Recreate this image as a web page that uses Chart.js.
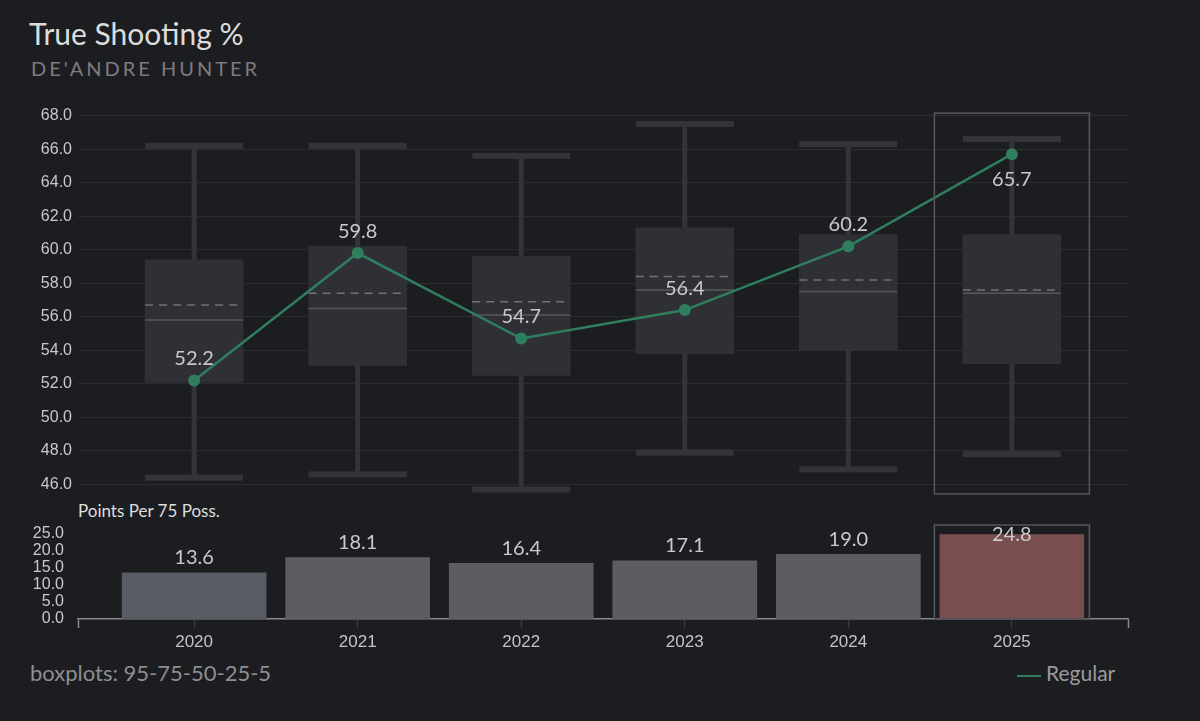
<!DOCTYPE html>
<html>
<head>
<meta charset="utf-8">
<script src="https://cdn.jsdelivr.net/npm/chart.js@4/dist/chart.umd.min.js"></script>
<style>
  html, body { margin: 0; padding: 0; background: #1c1d21; }
  #wrap { position: relative; width: 1200px; height: 721px; overflow: hidden; background: #1c1d21; }
  .txt { position: absolute; white-space: nowrap; }
  #title { left: 29px; top: 15px; font: 30px Lato, sans-serif; color: #dcdcdc; }
  #sub { left: 31px; top: 56px; font: 20px Lato, sans-serif; color: #7c7c7e; letter-spacing: 3px; }
  #ppp { left: 78px; top: 500px; font: 17px Lato, sans-serif; color: #dedede; }
  #foot { left: 30px; top: 659px; font: 22px Lato, sans-serif; color: #8e8e90; }
  #legend { left: 1017px; top: 660px; font: 21px Lato, sans-serif; color: #9a9a9c; }
  #legend span { display: inline-block; width: 24px; height: 2px; background: #2f7f5e; vertical-align: middle; margin-right: 5px; }
  #topc { position: absolute; left: 0; top: 100px; }
  #botc { position: absolute; left: 0; top: 500px; }
</style>
</head>
<body>
<div id="wrap">
  <div class="txt" id="title">True Shooting %</div>
  <div class="txt" id="sub">DE'ANDRE HUNTER</div>
  <div class="txt" id="ppp">Points Per 75 Poss.</div>
  <div class="txt" id="foot">boxplots: 95-75-50-25-5</div>
  <div class="txt" id="legend"><span></span>Regular</div>
  <canvas id="topc" width="1200" height="400"></canvas>
  <canvas id="botc" width="1200" height="160"></canvas>
</div>
<script>
// seasons
const seasons = [2020, 2021, 2022, 2023, 2024, 2025];

// league boxplot percentiles (true shooting %)
const p95 = [66.2, 66.2, 65.6, 67.5, 66.3, 66.6];
const p75 = [59.4, 60.2, 59.6, 61.3, 60.9, 60.9];
const p50 = [55.8, 56.5, 56.1, 57.6, 57.5, 57.4];
const p25 = [52.1, 53.1, 52.5, 53.8, 54.0, 53.2];
const p05 = [46.4, 46.6, 45.7, 47.9, 46.9, 47.8];
const avg = [56.7, 57.4, 56.9, 58.4, 58.2, 57.6];

// player values
const tsPct = [52.2, 59.8, 54.7, 56.4, 60.2, 65.7];
const pts75 = [13.6, 18.1, 16.4, 17.1, 19.0, 24.8];
const barColors = ["#595c64", "#5c5d62", "#5c5d62", "#5c5d62", "#5c5d62", "#794e4f"];
const labelBelow = [false, false, false, false, false, true];

const tsTicks = { min: 46, max: 68, step: 2 };
const ptsTicks = { min: 0, max: 25, step: 5 };
const highlightSeason = 2025;

const xMin = 2019.29, xMax = 2025.71;

const fixY = (w) => (scale) => { scale.width = w; };

// whiskers, medians, means and value labels for the box chart
const boxPlugin = {
  id: "boxes",
  beforeDatasetsDraw(chart) {
    const { ctx, scales: { x, y } } = chart;
    const half = chart.getDatasetMeta(0).data[0].width / 2;
    ctx.save();
    ctx.strokeStyle = "#333439";
    ctx.fillStyle = "#333439";
    seasons.forEach((s, i) => {
      const cx = x.getPixelForValue(s);
      ctx.lineWidth = 5;
      ctx.beginPath();
      ctx.moveTo(cx, y.getPixelForValue(p95[i]));
      ctx.lineTo(cx, y.getPixelForValue(p05[i]));
      ctx.stroke();
      ctx.fillRect(cx - half, y.getPixelForValue(p95[i]) - 3, half * 2, 6);
      ctx.fillRect(cx - half, y.getPixelForValue(p05[i]) - 3, half * 2, 6);
    });
    ctx.restore();
  },
  afterDatasetDraw(chart, args) {
    if (args.index !== 0) return;
    const { ctx, scales: { x, y } } = chart;
    const half = chart.getDatasetMeta(0).data[0].width / 2;
    ctx.save();
    seasons.forEach((s, i) => {
      const cx = x.getPixelForValue(s);
      ctx.lineWidth = 1.5;
      ctx.strokeStyle = "#57585d";
      ctx.setLineDash([]);
      let py = y.getPixelForValue(p50[i]);
      ctx.beginPath(); ctx.moveTo(cx - half, py); ctx.lineTo(cx + half, py); ctx.stroke();
      ctx.strokeStyle = "#717276";
      ctx.setLineDash([8, 6]);
      py = y.getPixelForValue(avg[i]);
      ctx.beginPath(); ctx.moveTo(cx - half, py); ctx.lineTo(cx + half, py); ctx.stroke();
    });
    ctx.restore();
  },
  afterDatasetsDraw(chart) {
    const { ctx, scales: { x, y } } = chart;
    ctx.save();
    ctx.font = "20px Lato, sans-serif";
    ctx.fillStyle = "#cacacc";
    ctx.textAlign = "center";
    ctx.textBaseline = "middle";
    chart.getDatasetMeta(1).data.forEach((pt, i) => {
      ctx.fillText(tsPct[i].toFixed(1), pt.x, pt.y + (labelBelow[i] ? 25 : -22));
    });
    // highlighted season frame
    const hx = x.getPixelForValue(highlightSeason);
    ctx.strokeStyle = "#56575b";
    ctx.lineWidth = 1.5;
    ctx.strokeRect(hx - 77.5, y.getPixelForValue(tsTicks.max) - 2.5, 155, chart.chartArea.height + 12);
    ctx.restore();
  }
};

const barLabelPlugin = {
  id: "barLabels",
  afterDatasetsDraw(chart) {
    const { ctx, chartArea, scales: { x } } = chart;
    ctx.save();
    ctx.font = "20px Lato, sans-serif";
    ctx.fillStyle = "#cacacc";
    ctx.textAlign = "center";
    ctx.textBaseline = "middle";
    chart.getDatasetMeta(0).data.forEach((b, i) => {
      ctx.fillText(pts75[i].toFixed(1), b.x, Math.max(b.y - 15, chartArea.top + 1));
    });
    const hx = x.getPixelForValue(highlightSeason);
    ctx.strokeStyle = "#56575b";
    ctx.lineWidth = 1.5;
    ctx.strokeRect(hx - 77.5, chartArea.top - 9, 155, chartArea.bottom - chartArea.top + 9);
    ctx.restore();
  }
};

new Chart(document.getElementById("topc"), {
  data: {
    datasets: [
      {
        type: "bar",
        data: seasons.map((s, i) => ({ x: s, y: [p25[i], p75[i]] })),
        backgroundColor: "#2f3035",
        borderWidth: 0,
        barThickness: 98,
        order: 2
      },
      {
        type: "line",
        label: "Regular",
        data: seasons.map((s, i) => ({ x: s, y: tsPct[i] })),
        borderColor: "#2f7f5e",
        backgroundColor: "#2f7f5e",
        borderWidth: 2.5,
        pointRadius: 6,
        pointBorderWidth: 0,
        order: 1
      }
    ]
  },
  options: {
    responsive: false,
    animation: false,
    layout: { padding: { top: 13, bottom: 13, right: 72, left: 0 } },
    plugins: { legend: { display: false }, tooltip: { enabled: false } },
    scales: {
      x: { type: "linear", min: xMin, max: xMax, offset: false, display: false },
      y: {
        min: tsTicks.min, max: tsTicks.max,
        afterFit: fixY(78),
        border: { display: false },
        grid: { color: "#2c2d31", lineWidth: 1, drawTicks: false },
        ticks: {
          stepSize: tsTicks.step, padding: 6, color: "#c9c9cb",
          font: { family: "Liberation Sans", size: 16 },
          callback: (v) => v.toFixed(1)
        }
      }
    }
  },
  plugins: [boxPlugin]
});

new Chart(document.getElementById("botc"), {
  type: "bar",
  data: {
    datasets: [{
      data: seasons.map((s, i) => ({ x: s, y: pts75[i] })),
      backgroundColor: barColors,
      borderWidth: 0,
      barThickness: 144
    }]
  },
  options: {
    responsive: false,
    animation: false,
    layout: { padding: { top: 34, bottom: 0, right: 72, left: 0 } },
    plugins: { legend: { display: false }, tooltip: { enabled: false } },
    scales: {
      x: {
        type: "linear", min: xMin, max: xMax, offset: false,
        afterFit: (scale) => { scale.height = 41; },
        border: { color: "#8a8a8c", width: 1.5 },
        grid: {
          offset: false,
          drawOnChartArea: false,
          tickLength: 9,
          tickColor: (c) => (c.tick && Number.isInteger(c.tick.value)) ? "#3a3b3f" : "#8a8a8c",
          tickWidth: 1.5
        },
        ticks: {
          stepSize: 1, padding: 4, color: "#c4c4c6",
          font: { family: "Liberation Sans", size: 17 },
          callback: (v) => Number.isInteger(v) ? String(v) : ""
        }
      },
      y: {
        min: ptsTicks.min, max: ptsTicks.max,
        afterFit: fixY(78),
        border: { display: false },
        grid: { display: false },
        ticks: {
          stepSize: ptsTicks.step, padding: 6, color: "#c9c9cb",
          font: { family: "Liberation Sans", size: 16, lineHeight: 1 },
          autoSkip: false,
          callback: (v) => v.toFixed(1)
        }
      }
    }
  },
  plugins: [barLabelPlugin]
});
</script>
</body>
</html>
